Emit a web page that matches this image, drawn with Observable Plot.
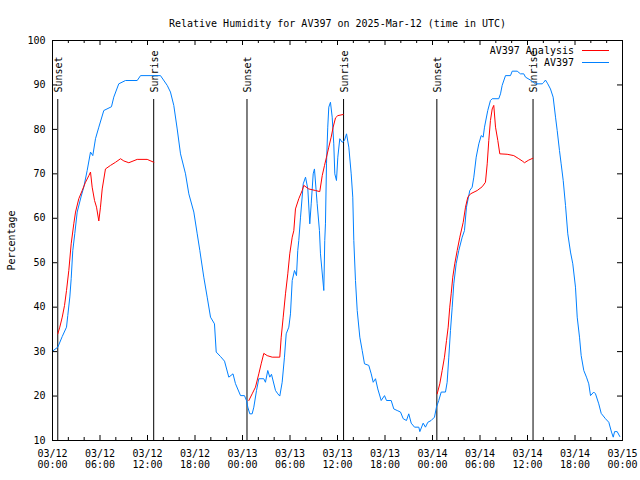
<!DOCTYPE html>
<html><head><meta charset="utf-8">
<script src="https://cdn.jsdelivr.net/npm/d3@7"></script>
<script src="https://cdn.jsdelivr.net/npm/@observablehq/plot@0.6"></script>
<style>body{margin:0;background:#fff}</style>
</head><body><div id="chart"></div>
<script>
const title = "Relative Humidity for AV397 on 2025-Mar-12 (time in UTC)";
const yLabel = "Percentage";
const seriesNames = ["AV397 Analysis", "AV397"];
const seriesColors = ["#ff0000", "#0080ff"];
const startUTC = Date.UTC(2025, 2, 12);

// AV397 observations: hours since 2025-03-12 00:00 UTC, relative humidity (%)
const obsHours = [0,0.67,1.23,1.77,1.93,2.19,2.36,2.56,2.82,3.12,3.63,3.95,4.38,4.80,5.09,5.43,5.85,6.48,7.45,7.74,8.37,9.22,10.70,11.12,13.64,14.49,14.90,15.32,15.75,16.17,16.80,17.22,17.85,18.28,18.61,19.11,19.54,19.96,20.46,20.68,21.22,21.73,22.27,22.80,23.11,23.75,24.25,24.50,24.67,24.92,25.22,25.43,25.77,26.06,26.69,26.90,27.19,27.45,27.66,28.17,28.46,28.71,29.01,29.30,29.52,29.85,30.06,30.28,30.57,30.82,30.98,31.11,31.33,31.67,31.96,32.25,32.50,32.68,32.93,33.09,33.43,33.72,33.85,34.27,34.39,34.48,34.61,34.77,34.90,35.11,35.33,35.53,35.66,35.87,36.04,36.29,36.59,36.88,37.14,37.43,37.73,37.93,38.06,38.27,38.49,38.82,39.12,39.41,39.95,40.26,40.51,40.80,41.09,41.52,41.94,42.19,42.78,43.11,43.54,43.96,44.30,44.71,45.00,45.31,45.73,46.27,46.40,46.82,47.11,47.41,47.83,48.25,48.50,48.79,49.10,49.64,49.85,50.06,50.27,50.49,50.69,50.99,51.32,51.75,52.04,52.29,52.71,53.01,53.22,53.52,53.85,54.15,54.40,54.57,54.98,55.32,55.54,56.37,56.59,56.80,57.22,57.85,58.07,58.70,59.11,59.53,59.75,60.46,61.01,61.86,62.06,62.27,62.56,62.90,63.24,63.54,63.75,64.04,64.25,64.51,64.80,65.09,65.43,65.72,66.06,66.28,66.57,66.78,67.11,67.45,67.74,67.96,68.37,68.59,69.00,69.31,69.85,70.27,70.61,70.83,71.00,71.33,71.66];
const obsRH = [30.1,31,33.4,35.5,38.1,42.3,46.4,52.7,56.6,61.4,65,67,70.75,74.9,74.1,77.9,80.5,84.25,85.1,87.25,90.25,91,91,92.1,92.1,89.9,88.4,85.4,80.1,74.5,70,65.5,61.4,56.5,52.75,46.75,42.25,37.75,36.25,29.9,28.9,27.85,24.25,25,22.8,20.1,20.1,19,17.5,16,16,17.5,21.25,23.9,23.9,23.1,25.75,24.25,24.9,21.25,20.5,20,23.1,28.75,34,35.5,38.5,46,48.25,47.1,52.75,55,60.25,67.75,69.25,66.6,58.75,63.25,70,71.1,63.3,57.25,52,43.75,55,58.75,72.25,80.5,85,86.1,82.75,76.75,70,68.5,73.75,77.9,77.1,77.5,79,76,70,64.75,55,46,39.25,33.25,30.25,27.25,26.9,25,23.1,23.9,21.6,19,20.1,19,19,17.1,16.75,16.4,14.9,14.5,16,13.9,13,13,12,13.9,13,14.1,14.5,15.25,17.5,19,20.9,20.9,23.1,28.75,34.75,40,45.25,49.75,52.75,55.75,57.25,62.5,66.25,67,69.25,73.75,76.75,78.6,78.25,80.5,84.25,86.5,86.9,86.9,88,89.9,92.1,92.1,93.1,93.1,92.5,92.5,91.75,91,90.25,90.25,90.6,91.1,90.25,89.1,87.25,82.75,79.75,75.25,72.25,68.5,62.9,56.5,52.4,49.75,44.5,37.75,33.25,29.1,25.75,24.25,22.75,20.1,20.9,20.5,18.25,16.1,14.9,14.1,11.9,10.75,12,12,10.9];

// AV397 Analysis (night periods only)
const anaHours = [0.67,0.92,1.23,1.52,1.77,2.06,2.36,2.69,2.91,3.32,3.75,4.17,4.59,4.80,5.01,5.31,5.56,5.85,6.06,6.28,6.69,7.33,7.96,8.59,9.01,9.64,10.70,11.96,12.80,
  24.80,25.22,25.64,26.06,26.36,26.69,27.12,27.75,28.71,28.89,29.14,29.43,29.72,29.97,30.28,30.48,30.69,31.11,31.54,31.74,32.37,33.22,33.76,34.07,34.36,34.61,34.90,35.20,35.45,35.75,36.04,36.72,
  48.59,48.92,49.22,49.51,49.77,49.98,50.18,50.36,50.56,50.81,51.12,51.45,51.88,52.17,52.46,52.80,53.65,54.28,54.69,54.91,55.11,55.32,55.54,55.74,55.96,56.25,56.50,57.43,58.27,58.90,59.33,59.62,60.16,60.67];
const anaRH = [34,35.5,37.75,40.4,43.75,48.25,54.25,58.75,61.4,64.4,66.25,68.1,69.6,70.4,67,64,62.5,59.4,62.5,66.6,71.1,71.9,72.6,73.4,72.9,72.5,73.25,73.25,72.6,
  19,20.5,22,25,27.25,29.6,29.1,28.75,28.75,33.25,37.75,43,47.5,52,55.75,57.2,62.1,64.4,66.25,67.4,66.6,66.25,66,69.6,71.9,73.75,76,78.25,80.5,82.6,83.1,83.35,
  20.5,22.75,25.75,28.75,32.5,35.5,40,43,46.75,49.75,52.75,55.75,59.1,62.5,64.75,65.5,66.25,67.1,68.1,72.25,77.5,82,84.6,85.4,80.5,77.5,74.5,74.4,74.1,73.4,72.9,72.5,73.1,73.5];

const sunEvents = ["Sunset","Sunrise","Sunset","Sunrise","Sunset","Sunrise"];
const sunTimes = ["2025-03-12T00:40Z","2025-03-12T12:47Z","2025-03-13T00:34Z","2025-03-13T12:46Z","2025-03-14T00:33Z","2025-03-14T12:42Z"];

const yTicks = [10,20,30,40,50,60,70,80,90,100];
const xMajorHours = [0,6,12,18,24,30,36,42,48,54,60,66,72];
const xMinorHours = [2,4,8,10,14,16,20,22,26,28,32,34,38,40,44,46,50,52,56,58,62,64,68,70];

const toDate = h => new Date(startUTC + h * 3600e3);
const obs = obsHours.map((h, i) => ({t: toDate(h), rh: obsRH[i]}));
const ana = anaHours.map((h, i) => ({t: toDate(h), rh: anaRH[i], seg: Math.floor((h + 6) / 24)}));
const sun = sunTimes.map((s, i) => ({t: new Date(s), label: sunEvents[i]}));
const xMajor = xMajorHours.map(toDate);
const xMinor = xMinorHours.map(toDate);

const W = 640, H = 480, mL = 52, mR = 18, mT = 40, mB = 40;
const fw = W - mL - mR, fh = H - mT - mB;
const font = "'DejaVu Sans Mono', monospace";

const chart = Plot.plot({
  width: W, height: H, marginLeft: mL, marginRight: mR, marginTop: mT, marginBottom: mB,
  style: {fontFamily: font, fontSize: "10px", background: "#fff", color: "#000"},
  x: {type: "utc", domain: [toDate(0), toDate(72)]},
  y: {domain: [10, 100]},
  marks: [
    Plot.ruleY(yTicks, {y: d => d, insetRight: fw - 5, stroke: "#000"}),
    Plot.ruleY(yTicks, {y: d => d, insetLeft: fw - 5, stroke: "#000"}),
    Plot.ruleX(xMajor, {x: d => d, insetTop: fh - 5, stroke: "#000"}),
    Plot.ruleX(xMajor, {x: d => d, insetBottom: fh - 5, stroke: "#000"}),
    Plot.ruleX(xMinor, {x: d => d, insetTop: fh - 3, stroke: "#000"}),
    Plot.ruleX(xMinor, {x: d => d, insetBottom: fh - 3, stroke: "#000"}),
    Plot.axisY({ticks: yTicks, tickSize: 0, tickPadding: 7, label: null, fontSize: 10}),
    Plot.axisX({ticks: xMajor, tickSize: 0, tickPadding: 9, label: null, fontSize: 10, lineHeight: 1.1,
      tickFormat: d3.utcFormat("%m/%d\n%H:%M")}),
    Plot.ruleX(sun, {x: "t", insetTop: 59, stroke: "#000"}),
    Plot.text(sun, {x: "t", text: "label", frameAnchor: "top", dy: 52, dx: 1, rotate: -90, textAnchor: "start", lineAnchor: "middle", fill: "#000", fontSize: 10}),
    Plot.line(obs, {x: "t", y: "rh", stroke: seriesColors[1], strokeWidth: 1}),
    Plot.line(ana, {x: "t", y: "rh", z: "seg", stroke: seriesColors[0], strokeWidth: 1}),
    Plot.frame({stroke: "#000"}),
    Plot.text([title], {text: d => d, frameAnchor: "top", dy: -21, fill: "#000", fontSize: 10}),
    Plot.text([yLabel], {text: d => d, frameAnchor: "left", dx: -41, rotate: -90, textAnchor: "middle", fill: "#000", fontSize: 10})
  ]
});

// legend (top-right, inside the frame)
const svg = d3.select(chart);
const lg = svg.append("g").attr("font-family", font).attr("font-size", 10);
seriesNames.forEach((name, i) => {
  const y = mT + 10 + i * 12;
  lg.append("text").attr("x", W - mR - 48).attr("y", y).attr("dy", "0.35em")
    .attr("text-anchor", "end").attr("fill", "#000").text(name);
  lg.append("line").attr("x1", W - mR - 40).attr("x2", W - mR - 13)
    .attr("y1", y + 0.5).attr("y2", y + 0.5).attr("stroke", seriesColors[i]).attr("stroke-width", 1);
});

document.getElementById("chart").appendChild(chart);
</script>
</body></html>
